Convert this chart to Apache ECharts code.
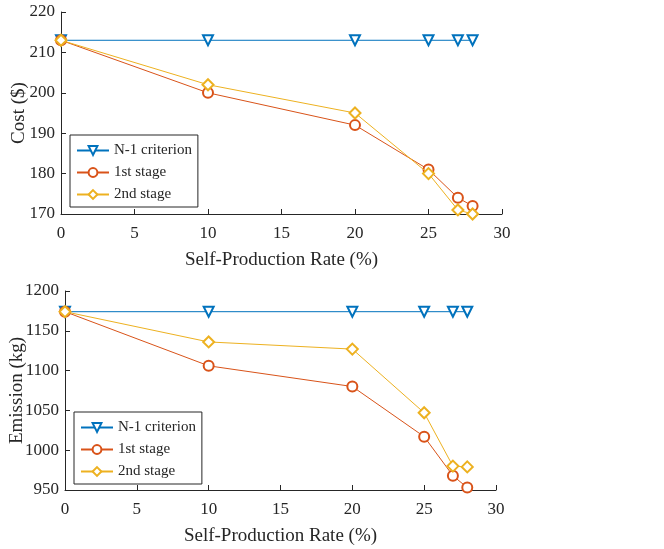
<!DOCTYPE html>
<html>
<head>
<meta charset="utf-8">
<script src="https://cdn.jsdelivr.net/npm/echarts@6/dist/echarts.min.js"></script>
<style>
  html, body { margin: 0; padding: 0; background: #fff; }
  #chart { width: 664px; height: 549px; }
</style>
</head>
<body>
<div id="chart"></div>
<script>
// Self-production rate (%) for every scenario
const rates = [0, 10, 20, 25, 27, 28];

// Operating cost ($)
const costN1 = [213, 213, 213, 213, 213, 213];
const cost1st = [213, 200, 192, 181, 174, 172];
const cost2nd = [213, 202, 195, 180, 171, 170];

// Emission (kg)
const emisN1 = [1174, 1174, 1174, 1174, 1174, 1174];
const emis1st = [1174, 1106, 1080, 1017, 968, 953];
const emis2nd = [1174, 1136, 1127, 1047, 980, 979];

const seriesNames = ['N-1 criterion', '1st stage', '2nd stage'];
const colors = ['#0072BD', '#D95319', '#EDB120'];
const symbols = ['emptyTriangle', 'emptyCircle', 'emptyDiamond'];
const rotations = [180, 0, 0];

const FONT = '"Liberation Serif", "Times New Roman", serif';
const AXIS_COLOR = '#262626';

function pairs(ys) {
  return rates.map((x, i) => [x, ys[i]]);
}

function makeSeries(idx, values, axisIndex) {
  return {
    name: seriesNames[idx],
    type: 'line',
    xAxisIndex: axisIndex,
    yAxisIndex: axisIndex,
    data: pairs(values),
    symbol: symbols[idx],
    symbolRotate: rotations[idx],
    symbolSize: idx === 2 ? 11 : 10,
    showAllSymbol: true,
    lineStyle: { color: colors[idx], width: 1 },
    itemStyle: { color: colors[idx], borderWidth: 1 },
    z: 2 + idx,
    animation: false
  };
}

function xAxisCfg(gridIndex) {
  return {
    type: 'value',
    gridIndex: gridIndex,
    min: 0, max: 30, interval: 5,
    name: 'Self-Production Rate (%)',
    nameLocation: 'middle',
    nameGap: 37,
    nameMoveOverlap: false,
    nameTextStyle: { fontFamily: FONT, fontSize: 19, color: AXIS_COLOR },
    axisLine: { onZero: false, lineStyle: { color: AXIS_COLOR, width: 1 } },
    axisTick: { inside: true, length: 5, lineStyle: { color: AXIS_COLOR } },
    axisLabel: { fontFamily: FONT, fontSize: 17, color: AXIS_COLOR, margin: 11 },
    splitLine: { show: false }
  };
}

function yAxisCfg(gridIndex, name, min, max, interval, gap) {
  return {
    type: 'value',
    gridIndex: gridIndex,
    min: min, max: max, interval: interval,
    name: name,
    nameLocation: 'middle',
    nameGap: gap,
    nameMoveOverlap: false,
    nameTextStyle: { fontFamily: FONT, fontSize: 19, color: AXIS_COLOR },
    axisLine: { show: true, onZero: false, lineStyle: { color: AXIS_COLOR, width: 1 } },
    axisTick: { show: true, inside: true, length: 5, lineStyle: { color: AXIS_COLOR } },
    axisLabel: {
      fontFamily: FONT, fontSize: 17, color: AXIS_COLOR, margin: 6,
      formatter: (v) => String(v)
    },
    splitLine: { show: false }
  };
}

function legendCfg(left, top) {
  return {
    data: seriesNames,
    orient: 'vertical',
    left: left,
    top: top,
    backgroundColor: '#fff',
    borderColor: AXIS_COLOR,
    borderWidth: 1,
    padding: [8, 6, 5, 6],
    itemWidth: 32,
    itemHeight: 11,
    itemGap: 7,
    selectedMode: false,
    textStyle: { fontFamily: FONT, fontSize: 15, color: AXIS_COLOR }
  };
}

const chart = echarts.init(document.getElementById('chart'), null, { renderer: 'canvas' });
chart.setOption({
  backgroundColor: '#fff',
  animation: false,
  grid: [
    { left: 61, right: 162, top: 12, height: 202, outerBoundsMode: 'none', containLabel: false },
    { left: 65, right: 168, top: 291, height: 199, outerBoundsMode: 'none', containLabel: false }
  ],
  xAxis: [xAxisCfg(0), xAxisCfg(1)],
  yAxis: [
    yAxisCfg(0, 'Cost ($)', 170, 220, 10, 32),
    yAxisCfg(1, 'Emission (kg)', 950, 1200, 50, 38)
  ],
  legend: [legendCfg(70, 135), legendCfg(74, 412)],
  series: [
    makeSeries(0, costN1, 0),
    makeSeries(1, cost1st, 0),
    makeSeries(2, cost2nd, 0),
    makeSeries(0, emisN1, 1),
    makeSeries(1, emis1st, 1),
    makeSeries(2, emis2nd, 1)
  ]
});
</script>
</body>
</html>
